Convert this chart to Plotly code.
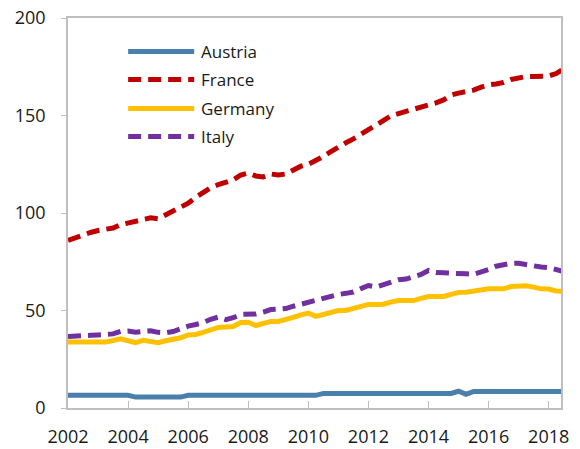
import plotly.graph_objects as go

# Quarterly observations, 2002Q1 .. 2018Q3
years = [2002 + i / 4 for i in range(67)]

austria = [6.5] * 9 + [5.6] * 7 + [6.5] * 18 + [7.5] * 18 + [8.6, 7.0] + [8.5] * 13

france = [
    86, 87.5, 89, 90, 91, 91.5, 92.3, 94,
    95, 95.8, 96.5, 97.5, 97, 99, 100.5, 102.5,
    105, 108, 110.5, 113, 114.5, 115.5, 117, 119.5,
    120.5, 119, 118.5, 120, 119.5, 120, 122, 124,
    125, 126.8, 129, 131.5, 134, 136, 138, 140.5,
    143, 145, 147.5, 149.8, 151, 152, 153, 154.5,
    155.5, 156.5, 158, 160.5, 161.5, 162.3, 163, 164.5,
    165.7, 166.2, 167, 168.5, 169.5, 170, 170, 170.2,
    170.3, 171.5, 174,
]

germany = [
    33.8, 33.8, 33.8, 33.8, 33.8, 33.8, 34.6, 35.5,
    34.5, 33.5, 34.7, 34.0, 33.5, 34.5, 35.0, 36.0,
    37.5, 37.7, 38.8, 40.0, 41.3, 41.5, 41.8, 43.8,
    44.0, 42.3, 43.3, 44.4, 44.4, 45.3, 46.5, 47.8,
    48.7, 47.0, 48.0, 49.2, 50.0, 50.0, 51.0, 52.3,
    53.1, 53.1, 53.2, 54.3, 55.1, 55.1, 55.1, 56.2,
    57.2, 57.2, 57.2, 58.3, 59.3, 59.4, 60.0, 60.8,
    61.1, 61.1, 61.1, 62.3, 62.7, 62.7, 62.0, 61.1,
    61.0, 60.0, 59.9,
]

italy = [
    36.7, 36.7, 36.9, 37.3, 37.5, 37.7, 38.0, 39.3,
    39.5, 38.9, 39.5, 39.6, 38.8, 38.6, 39.2, 40.7,
    42.0, 42.8, 43.8, 45.5, 46.6, 45.3, 46.3, 48.0,
    48.0, 48.2, 49.2, 50.5, 50.7, 51.0, 52.2, 53.3,
    54.2, 55.4, 56.5, 57.4, 58.2, 58.8, 59.5, 61.2,
    62.8, 62.0, 63.2, 64.8, 65.8, 66.1, 67.0, 68.5,
    70.5, 69.5, 69.3, 69.3, 69.2, 68.8, 68.6, 69.5,
    71.0, 72.7, 73.6, 74.2, 74.2, 73.5, 72.6, 72.3,
    72.0, 71.0, 70.0,
]

x_ticks = list(range(2002, 2019, 2))
y_ticks = [0, 50, 100, 150, 200]

series = [
    ("Austria", austria, "#4A7EAB", "solid"),
    ("France", france, "#C00000", "13px,7px"),
    ("Germany", germany, "#FFC000", "solid"),
    ("Italy", italy, "#7030A0", "13px,7px"),
]

FONT = "Open Sans, DejaVu Sans, sans-serif"
fig = go.Figure()

for name, vals, color, dash in series:
    fig.add_trace(go.Scatter(
        x=years, y=vals, name=name, mode="lines",
        line=dict(color=color, width=5, dash=dash),
        showlegend=False,
    ))

# Legend drawn as sample lines with labels at the upper left of the plot
leg_x0, leg_x1, leg_tx = 0.122, 0.256, 0.266
leg_y = [0.914, 0.842, 0.768, 0.696]
for (name, vals, color, dash), ly in zip(series, leg_y):
    fig.add_shape(type="line", xref="paper", yref="paper",
                  x0=leg_x0, x1=leg_x1, y0=ly, y1=ly,
                  line=dict(color=color, width=5, dash=dash))
    fig.add_annotation(xref="paper", yref="paper", x=leg_tx, y=ly,
                       text=name, showarrow=False, xanchor="left",
                       yanchor="middle",
                       font=dict(family=FONT, size=17, color="#1a1a1a"))

axis_common = dict(
    showline=True, mirror=True, linecolor="#BFBFBF", linewidth=1.5,
    showgrid=False, zeroline=False, tickcolor="#BFBFBF",
    automargin=False,
    tickfont=dict(family=FONT, size=18, color="#1a1a1a"),
)

fig.update_xaxes(range=[2002, 2018.41], tickvals=x_ticks,
                 ticks="inside", ticklen=7, ticklabelstandoff=12,
                 **axis_common)
fig.update_yaxes(range=[0, 200], tickvals=y_ticks,
                 ticks="outside", ticklen=5, ticklabelstandoff=12,
                 **axis_common)

fig.update_layout(
    width=580, height=449,
    margin=dict(l=68, r=19, t=18, b=41),
    paper_bgcolor="white", plot_bgcolor="white",
)

fig.write_html("out.html")
